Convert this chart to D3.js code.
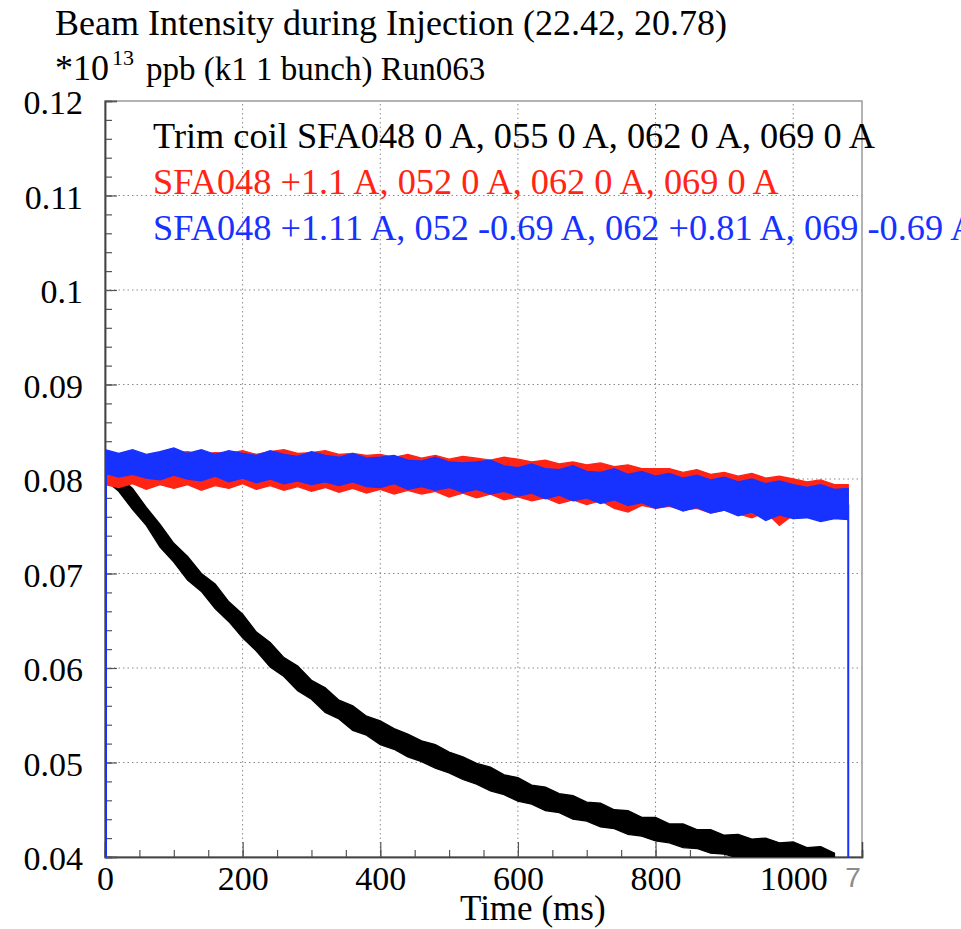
<!DOCTYPE html>
<html><head><meta charset="utf-8">
<script src="https://cdn.jsdelivr.net/npm/d3@7"></script>
<style>html,body{margin:0;padding:0;background:#fff;overflow:hidden}</style>
</head><body>
<svg id="c" width="961" height="929"></svg>
<script>
// ---------------- data ----------------
const times = [0,20,40,60,80,100,120,140,160,180,200,220,240,260,280,300,320,340,360,380,
  400,420,440,460,480,500,520,540,560,580,600,620,640,660,680,700,720,740,760,780,
  800,820,840,860,880,900,920,940,960,980,1000,1020,1040,1060,1080];

// black: Trim coil SFA048 0 A, 055 0 A, 062 0 A, 069 0 A  (upper / lower edge of noise band)
const blackHi = [0.0812,0.0803,0.0790,0.0770,0.0752,0.0732,0.0718,0.0700,0.0689,0.0670,
  0.0657,0.0638,0.0627,0.0611,0.0602,0.0587,0.0579,0.0566,0.0560,0.0549,
  0.0544,0.0536,0.0530,0.0523,0.0519,0.0511,0.0506,0.0499,0.0495,0.0487,
  0.0484,0.0476,0.0474,0.0467,0.0465,0.0458,0.0457,0.0450,0.0449,0.0442,
  0.0442,0.0435,0.0435,0.0429,0.0429,0.0423,0.0424,0.0419,0.0420,0.0415,
  0.0416,0.0410,0.0411,0.0404];
const blackLo = [0.0799,0.0787,0.0768,0.0751,0.0728,0.0712,0.0693,0.0681,0.0663,0.0649,
  0.0632,0.0618,0.0601,0.0591,0.0576,0.0567,0.0553,0.0546,0.0534,0.0529,
  0.0519,0.0514,0.0506,0.0501,0.0494,0.0489,0.0482,0.0477,0.0470,0.0466,
  0.0459,0.0456,0.0449,0.0447,0.0440,0.0438,0.0432,0.0430,0.0424,0.0422,
  0.0417,0.0415,0.0410,0.0409,0.0404,0.0403,0.0399,0.0399,0.0395,0.0395,
  0.0391,0.0391,0.0387,0.0387];

// red: SFA048 +1.1 A, 052 0 A, 062 0 A, 069 0 A
const redHi = [0.0829,0.0826,0.0828,0.0825,0.0828,0.0827,0.0829,0.0826,0.0828,0.0827,
  0.0830,0.0826,0.0829,0.0831,0.0827,0.0828,0.0830,0.0826,0.0827,0.0825,
  0.0826,0.0823,0.0826,0.0822,0.0825,0.0821,0.0824,0.0822,0.0820,0.0823,
  0.0821,0.0818,0.0820,0.0816,0.0818,0.0815,0.0817,0.0813,0.0815,0.0811,
  0.0811,0.0811,0.0807,0.0810,0.0805,0.0807,0.0803,0.0806,0.0801,0.0803,
  0.0800,0.0797,0.0799,0.0794,0.0794];
const redLo = [0.0794,0.0791,0.0795,0.0789,0.0794,0.0790,0.0794,0.0788,0.0793,0.0790,
  0.0795,0.0789,0.0793,0.0788,0.0792,0.0787,0.0791,0.0786,0.0790,0.0785,
  0.0789,0.0784,0.0788,0.0784,0.0787,0.0781,0.0785,0.0780,0.0784,0.0778,
  0.0781,0.0777,0.0780,0.0774,0.0778,0.0773,0.0777,0.0769,0.0765,0.0772,
  0.0769,0.0771,0.0767,0.0769,0.0764,0.0767,0.0763,0.0759,0.0765,0.0751,
  0.0762,0.0763,0.0760,0.0764,0.0765];

// blue: SFA048 +1.11 A, 052 -0.69 A, 062 +0.81 A, 069 -0.69 A
const blueHi = [0.0831,0.0827,0.0831,0.0826,0.0829,0.0833,0.0827,0.0831,0.0826,0.0830,
  0.0827,0.0825,0.0830,0.0826,0.0824,0.0829,0.0825,0.0823,0.0827,0.0822,
  0.0823,0.0825,0.0820,0.0819,0.0823,0.0818,0.0817,0.0818,0.0820,0.0814,
  0.0812,0.0816,0.0811,0.0810,0.0814,0.0808,0.0807,0.0811,0.0805,0.0808,
  0.0803,0.0806,0.0801,0.0804,0.0799,0.0802,0.0797,0.0800,0.0795,0.0798,
  0.0794,0.0791,0.0794,0.0789,0.0790];
const blueLo = [0.0806,0.0802,0.0805,0.0801,0.0799,0.0804,0.0800,0.0798,0.0803,0.0797,
  0.0801,0.0796,0.0800,0.0795,0.0798,0.0794,0.0797,0.0793,0.0797,0.0792,
  0.0791,0.0795,0.0789,0.0792,0.0788,0.0791,0.0786,0.0789,0.0784,0.0787,
  0.0782,0.0785,0.0779,0.0783,0.0777,0.0780,0.0774,0.0778,0.0772,0.0775,
  0.0769,0.0772,0.0766,0.0770,0.0764,0.0767,0.0761,0.0765,0.0756,0.0762,
  0.0758,0.0759,0.0755,0.0758,0.0757];

// vertical jumps of the blue trace (start and end of the injection)
const dropTimes = [0, 1080];
const dropFrom = [0.0818, 0.0773];
const dropTo = [0, 0];

const xTickValues = [0,200,400,600,800,1000];
const yTickValues = [0.04,0.05,0.06,0.07,0.08,0.09,0.10,0.11,0.12];
const yTickLabels = ["0.04","0.05","0.06","0.07","0.08","0.09","0.1","0.11","0.12"];
const legendTexts = [
  "Trim coil SFA048 0 A, 055 0 A, 062 0 A, 069 0 A",
  "SFA048 +1.1 A, 052 0 A, 062 0 A, 069 0 A",
  "SFA048 +1.11 A, 052 -0.69 A, 062 +0.81 A, 069 -0.69 A"];
const seriesColors = ["#000000","#ff2414","#1732ff"];

// ---------------- drawing ----------------
const svg = d3.select("#c");
const L=105, R=862, T=101, B=857;
const x = d3.scaleLinear().domain([0,1100]).range([L,R]);
const y = d3.scaleLinear().domain([0.04,0.12]).range([B,T]);
const serif = '"Liberation Serif","Times New Roman",serif';

svg.append("defs").append("clipPath").attr("id","clip")
  .append("rect").attr("x",L).attr("y",T).attr("width",R-L).attr("height",B-T);

// grid
const grid = svg.append("g").attr("stroke","#8a8a8a").attr("stroke-width",1).attr("stroke-dasharray","1.5,3");
grid.selectAll("line.gx").data(xTickValues.filter(v=>v>0)).join("line")
  .attr("x1",d=>x(d)).attr("x2",d=>x(d)).attr("y1",B).attr("y2",T);
grid.selectAll("line.gy").data(yTickValues.filter(v=>v>0.041 && v<0.119)).join("line")
  .attr("x1",L).attr("x2",R).attr("y1",d=>y(d)).attr("y2",d=>y(d));

// frame
svg.append("rect").attr("x",L).attr("y",T).attr("width",R-L).attr("height",B-T)
  .attr("fill","none").attr("stroke","#9a9a9a").attr("stroke-width",1.5);

// axes
const xMinor = d3.range(0,1101,50);
const yMinor = d3.range(0,41).map(i=>0.04+i*0.002);
const gxMin = svg.append("g").attr("transform",`translate(0,${B})`)
  .call(d3.axisBottom(x).tickValues(xMinor).tickSize(-7).tickFormat(""));
const gx = svg.append("g").attr("transform",`translate(0,${B})`)
  .call(d3.axisBottom(x).tickValues(xTickValues).tickSize(-15).tickPadding(9).tickFormat(d3.format("d")));
const gyMin = svg.append("g").attr("transform",`translate(${L},0)`)
  .call(d3.axisLeft(y).tickValues(yMinor).tickSize(-7).tickFormat(""));
const gy = svg.append("g").attr("transform",`translate(${L},0)`)
  .call(d3.axisLeft(y).tickValues(yTickValues).tickSize(-12).tickPadding(22)
    .tickFormat((d,i)=>yTickLabels[i]));
[gxMin,gx,gyMin,gy].forEach(g=>{
  g.select(".domain").attr("stroke","#444").attr("stroke-width",1.5);
  g.selectAll(".tick line").attr("stroke","#555").attr("stroke-width",1.2);
  g.selectAll("text").attr("font-family",serif).attr("font-size",34).attr("fill","#000");
});
gy.selectAll("text").attr("dy","0.38em");

// series
const plot = svg.append("g").attr("clip-path","url(#clip)");
function band(hi, lo, color){
  const d = hi.map((h,i)=>({t:times[i], h:h, l:lo[i]}));
  const area = d3.area().x(p=>x(p.t)).y0(p=>y(p.l)).y1(p=>y(p.h));
  plot.append("path").datum(d).attr("d",area)
    .attr("fill",color).attr("stroke",color).attr("stroke-width",1.3).attr("stroke-linejoin","miter");
}
band(blackHi, blackLo, seriesColors[0]);
band(redHi, redLo, seriesColors[1]);
band(blueHi, blueLo, seriesColors[2]);
plot.selectAll("line.drop").data(dropTimes).join("line")
  .attr("x1",(d)=>x(d)+ (d===0?1:0)).attr("x2",(d)=>x(d)+(d===0?1:0))
  .attr("y1",(d,i)=>y(dropFrom[i])).attr("y2",(d,i)=>y(dropTo[i]))
  .attr("stroke",seriesColors[2]).attr("stroke-width",2);

// titles
svg.append("text").attr("x",55).attr("y",35)
  .attr("font-family",serif).attr("font-size",36).attr("fill","#000")
  .text("Beam Intensity during Injection (22.42, 20.78)");
const t2 = svg.append("g").attr("font-family",serif).attr("fill","#000");
t2.append("text").attr("x",55).attr("y",80).attr("font-size",36).text("*10");
t2.append("text").attr("x",112).attr("y",65).attr("font-size",22).text("13");
t2.append("text").attr("x",146).attr("y",80).attr("font-size",33).text("ppb (k1 1 bunch) Run063");

// legend
svg.selectAll("text.leg").data(legendTexts).join("text").attr("class","leg")
  .attr("x",153).attr("y",(d,i)=>148+i*46)
  .attr("font-family",serif).attr("font-size",36.3)
  .attr("fill",(d,i)=>seriesColors[i]).text(d=>d);

// axis title
svg.append("text").attr("x",460).attr("y",920)
  .attr("font-family",serif).attr("font-size",35).attr("fill","#000").text("Time (ms)");
// gray leftover label at the end of the x axis
svg.append("text").attr("x",853).attr("y",887).attr("text-anchor","middle")
  .attr("font-family",'"Liberation Sans",Arial,sans-serif').attr("font-size",28)
  .attr("fill","#8c8c8c").text("7");
</script>
</body></html>
